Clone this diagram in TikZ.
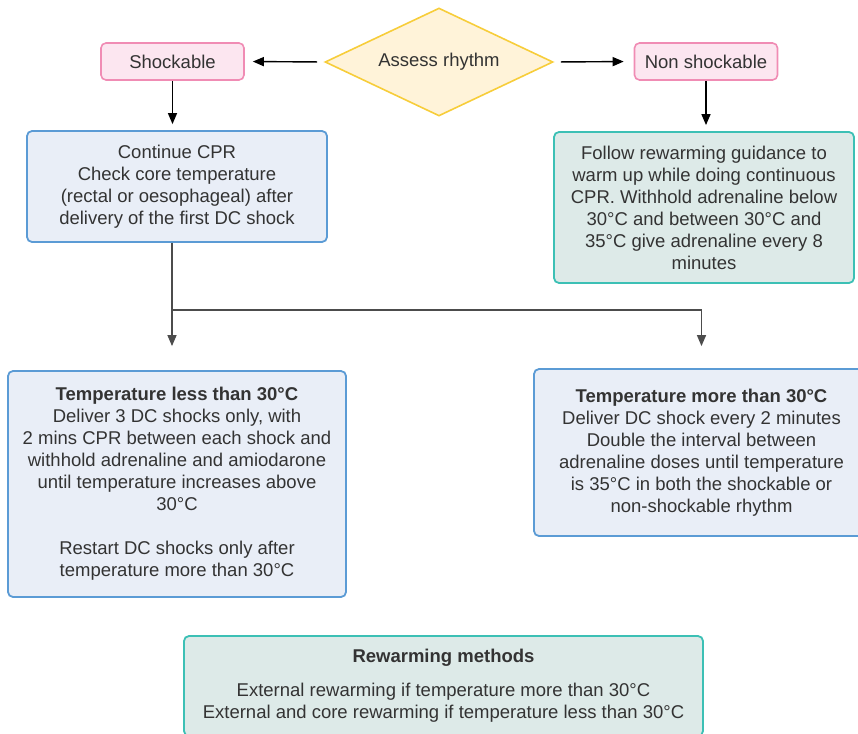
\documentclass[tikz,border=0pt]{standalone}
\usepackage{fontspec}
\setmainfont{Liberation Sans}
\usetikzlibrary{shapes.geometric,arrows.meta}
\definecolor{pinkfill}{HTML}{FCE6F0}
\definecolor{pinkline}{HTML}{F08CB4}
\definecolor{goldfill}{HTML}{FFF3D9}
\definecolor{goldline}{HTML}{F7CD3A}
\definecolor{bluefill}{HTML}{E9EEF7}
\definecolor{blueline}{HTML}{5B9BD5}
\definecolor{tealfill}{HTML}{DDEAE8}
\definecolor{tealline}{HTML}{3CC0B5}
\definecolor{txtgray}{HTML}{333333}
\tikzstyle{pinkbox} = [draw=pinkline, fill=pinkfill, line width=1.6pt, rounded corners=5pt, minimum width=143, minimum height=37, inner sep=0pt]
\tikzstyle{decision} = [diamond, draw=goldline, fill=goldfill, line width=1.6pt, shape aspect=2.1, minimum width=228, minimum height=108, inner sep=0pt]
\tikzstyle{bluebox} = [draw=blueline, fill=bluefill, line width=1.8pt, rounded corners=5pt, align=center, inner sep=0pt]
\tikzstyle{tealbox} = [draw=tealline, fill=tealfill, line width=1.8pt, rounded corners=5pt, align=center, inner sep=0pt]
\tikzstyle{arrow} = [line width=1.4pt, -{Triangle[length=11pt,width=9pt]}]

\begin{document}
\begin{tikzpicture}[x=1pt, y=-1pt, every node/.style={font=\fontsize{18.5}{22}\selectfont, text=txtgray}]
\useasboundingbox (0,0) rectangle (858,733);
\clip (0,0) rectangle (858,733);

\node [decision] (assess) at (439,62) {Assess rhythm};
\node [pinkbox] (shock) at (172.5,61.5) {Shockable};
\node [pinkbox] (nonshock) at (706,61.5) {Non shockable};

\node [bluebox, minimum width=300, minimum height=111] (cpr) at (177,186.5)
  {Continue CPR\\Check core temperature\\(rectal or oesophageal) after\\delivery of the first DC shock};
\node [tealbox, minimum width=300, minimum height=151] (follow) at (704,207.5)
  {Follow rewarming guidance to\\warm up while doing continuous\\CPR. Withhold adrenaline below\\30°C and between 30°C and\\35°C give adrenaline every 8\\minutes};

\node [bluebox, minimum width=338, minimum height=226] (less) at (177,484)
  {\textbf{Temperature less than 30°C}\\Deliver 3 DC shocks only, with\\2 mins CPR between each shock and\\withhold adrenaline and amiodarone\\until temperature increases above\\30°C\\[22pt]Restart DC shocks only after\\temperature more than 30°C};
\node [bluebox, minimum width=335, minimum height=167] (more) at (701.5,452.5)
  {\textbf{Temperature more than 30°C}\\Deliver DC shock every 2 minutes\\Double the interval between\\adrenaline doses until temperature\\is 35°C in both the shockable or\\non-shockable rhythm};

\node [tealbox, minimum width=519, minimum height=100] (methods) at (443.5,686)
  {\textbf{Rewarming methods}\\[12pt]External rewarming if temperature more than 30°C\\External and core rewarming if temperature less than 30°C};

\coordinate (split) at (172,310);

\draw [arrow, shorten <=7pt, shorten >=8pt] (assess.west) -- (shock.east); % assess-shock
\draw [arrow, shorten <=7pt, shorten >=10pt] (assess.east) -- (nonshock.west); % assess-nonshock
\draw [arrow, shorten >=6pt] (shock.south) -- (shock.south |- cpr.north); % shock-cpr
\draw [arrow, shorten >=6pt] (nonshock.south) -- (nonshock.south |- follow.north); % nonshock-follow

\draw [line width=1.4pt, draw=black!70] (split |- cpr.south) -- (split); % cpr-split
\draw [arrow, draw=black!70, shorten >=24pt] (split) -- (split |- less.north); % split-less
\draw [arrow, draw=black!70, shorten >=22pt] (split) -| (more.north); % split-more

\end{tikzpicture}
\end{document}
